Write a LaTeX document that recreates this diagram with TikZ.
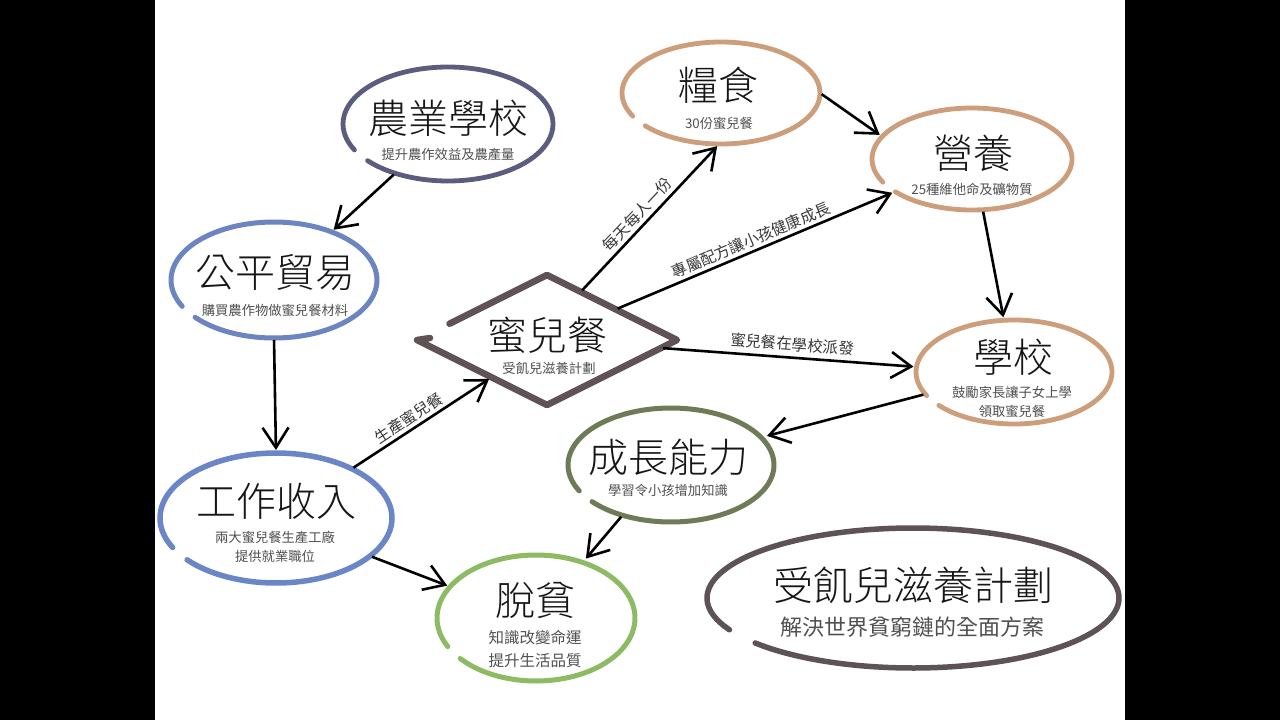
\documentclass[tikz,border=0pt]{standalone}
\usepackage{fontspec}
\setmainfont{Noto Sans CJK TC}
\IfFontExistsTF{Noto Sans CJK TC Light}
  {\newfontfamily\titlefont{Noto Sans CJK TC Light}}
  {\newfontfamily\titlefont{Noto Sans CJK TC}}
\usetikzlibrary{arrows.meta,shapes.geometric,calc}
\definecolor{cslate}{HTML}{5A5D7D}
\definecolor{cblueA}{HTML}{6C84C0}
\definecolor{cblueB}{HTML}{6A86C6}
\definecolor{cgreen}{HTML}{8CBB64}
\definecolor{colive}{HTML}{6D7C56}
\definecolor{ctan}{HTML}{CC9E7C}
\definecolor{cmauve}{HTML}{5F5356}
\definecolor{cbig}{HTML}{5D5254}
\definecolor{csub}{HTML}{505050}
\definecolor{ctitle}{HTML}{161616}
\definecolor{clab}{HTML}{383838}
\newcommand\handring[7]{%
  \node[blob, minimum width=#4*2pt, minimum height=#5*2pt] (#1) at (#2,#3) {};
  \draw[line width=#7, draw=#6, line cap=round, line join=round]
    plot[domain=153:500, samples=90, smooth, variable=\t] ({#2+#4*cos(\t)}, {#3+#5*sin(\t)});
}
\begin{document}
\begin{tikzpicture}[x=1pt,y=-1pt,
  blob/.style={ellipse, inner sep=0pt, outer sep=0pt, draw=none},
  title/.style={inner sep=0pt, font=\titlefont\fontsize{40}{48}\selectfont, text=ctitle},
  sub/.style={inner sep=0pt, font=\fontsize{13.3}{19}\selectfont, text=csub, align=center},
  subB/.style={inner sep=0pt, font=\fontsize{15.5}{23}\selectfont, text=csub, align=center},
  subC/.style={inner sep=0pt, font=\fontsize{22}{26}\selectfont, text=csub},
  conn/.style={line width=2.6pt, draw=black, shorten >=3pt, shorten <=2pt,
    -{Straight Barb[length=20pt,width=26pt,line width=2.6pt]}},
  elab/.style={font=\fontsize{15.5}{16}\selectfont, text=clab, sloped, above, inner sep=3pt}]
\useasboundingbox (0,0) rectangle (1280,720);
\fill[black] (0,0) rectangle (1280,720);
\fill[white] (155,0) rectangle (1125,720);

% rings (hand-drawn ellipses with a small gap)
\handring{nongye}{448}{124}{105}{57}{cslate}{4.8pt}
\handring{gongping}{274}{280}{103}{58}{cblueA}{5pt}
\handring{gongzuo}{276}{518}{116}{65}{cblueB}{5.5pt}
\handring{tuopin}{536}{618}{99}{63}{cgreen}{5pt}
\handring{chengzhang}{671}{465}{103}{57}{colive}{5pt}
\handring{liangshi}{721}{93}{99}{51}{ctan}{4.8pt}
\handring{yingyang}{972}{159}{100}{51}{ctan}{4.8pt}
\handring{xuexiao}{1014}{372}{98}{52}{ctan}{4.8pt}
\handring{jihua}{913}{598}{206}{70}{cbig}{5.5pt}

% diamond
\node[diamond, minimum width=260pt, minimum height=130pt, inner sep=0pt, outer sep=0pt, draw=none] (mier) at (547,340) {};
\draw[cmauve, line width=6.5pt, line join=round, line cap=round]
  ($(mier.west)!0.25!(mier.north)$) -- (mier.north) -- (mier.east) -- (mier.south) -- (mier.west) -- ++(13,-2);

% texts
\node[title] (nongye-t) at (448,118) {農業學校};
\node[sub] (nongye-s) at (448,154) {提升農作效益及農產量};
\node[title] (gongping-t) at (275,273) {公平貿易};
\node[sub] (gongping-s) at (275,310) {購買農作物做蜜兒餐材料};
\node[title] (gongzuo-t) at (276,501) {工作收入};
\node[sub] (gongzuo-s) at (275,547) {兩大蜜兒餐生產工廠\\提供就業職位};
\node[title] (tuopin-t) at (535,600) {脫貧};
\node[subB] (tuopin-s) at (535,649) {知識改變命運\\提升生活品質};
\node[title] (chengzhang-t) at (668,457) {成長能力};
\node[sub] (chengzhang-s) at (668,490) {學習令小孩增加知識};
\node[title] (mier-t) at (547,335) {蜜兒餐};
\node[sub] (mier-s) at (549,368) {受飢兒滋養計劃};
\node[title] (liangshi-t) at (718,85) {糧食};
\node[sub] (liangshi-s) at (719,123) {30份蜜兒餐};
\node[title] (yingyang-t) at (973,153) {營養};
\node[sub] (yingyang-s) at (972,189) {25種維他命及礦物質};
\node[title] (xuexiao-t) at (1013,357) {學校};
\node[sub] (xuexiao-s) at (1012,402) {鼓勵家長讓子女上學\\領取蜜兒餐};
\node[title] (jihua-t) at (913,585) {受飢兒滋養計劃};
\node[subC] (jihua-s) at (912,627) {解決世界貧窮鏈的全面方案};

% connectors
\draw[conn] (nongye.223) -- (gongping.40);
\draw[conn] (gongping.-90) -- (gongzuo.90);
\draw[conn] (gongzuo.33) -- node[elab, pos=0.45] (l1) {生產蜜兒餐} (mier.214);
\draw[conn] (gongzuo.-22) -- (tuopin.160);
\draw[conn] (mier.55) -- node[elab, pos=0.47] (l2) {每天每人一份} (liangshi.-92);
\draw[conn] (mier.24) -- node[elab, pos=0.5] (l3) {專屬配方讓小孩健康成長} (yingyang.203);
\draw[conn] (mier.-4) -- node[elab, pos=0.51, inner sep=5pt] (l4) {蜜兒餐在學校派發} (xuexiao.177);
\draw[conn] (liangshi.0) -- (yingyang.166);
\draw[conn] (yingyang.-78) -- (xuexiao.101);
\draw[conn, shorten >=6pt] (xuexiao.194) -- (chengzhang.17);
\draw[conn, shorten >=5pt] (chengzhang.226) -- (tuopin.50);
\end{tikzpicture}
\end{document}
